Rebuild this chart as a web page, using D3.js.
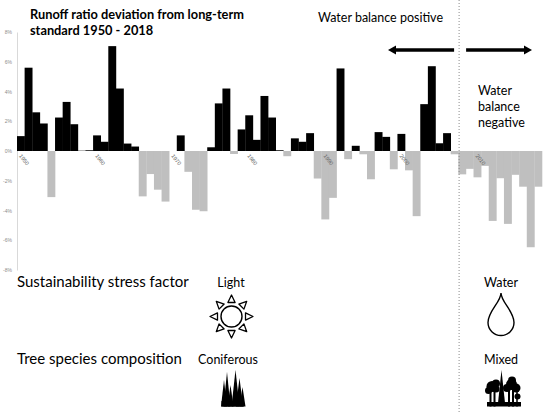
<!DOCTYPE html>
<html>
<head>
<meta charset="utf-8">
<script src="https://cdn.jsdelivr.net/npm/d3@7"></script>
<style>
  body { margin: 0; background: #fff; }
  svg { display: block; font-family: Lato, "Open Sans", sans-serif; }
</style>
</head>
<body>
<div id="chart"></div>
<script>
const years = d3.range(1950, 2019);
// runoff ratio deviation in %
const deviation = [
  1.0, 5.6, 2.6, 1.85, -3.1, 2.25, 3.3, 1.8, 0.02, 0.05,
  1.05, 0.62, 7.05, 4.2, 0.5, 0.3, -3.05, -1.55, -2.6, -3.4,
  0, 1.05, -1.4, -3.95, -4.05, 0.25, 3.2, 4.2, -0.2, 1.45,
  2.4, 0.75, 3.7, 2.25, 0.05, -0.35, 0.85, 0.62, 1.2, -1.85,
  -4.6, -3.15, 5.55, -0.55, 0.35, -0.22, -1.9, 1.27, 0.95, -1.23,
  1.15, -1.3, -4.38, 3.15, 5.7, 0.52, 1.2, -0.22, -1.57, -1.2,
  -1.77, -1.0, -4.7, -1.83, -4.9, -1.6, -2.4, -6.47, -2.4
];
const yTicks = [-8, -6, -4, -2, 0, 2, 4, 6, 8];
const labelYears = [1950, 1960, 1970, 1980, 1990, 2000, 2010];
const splitYear = 2008;
const titleLines = ["Runoff ratio deviation from long-term", "standard 1950 - 2018"];
const negLines = ["Water", "balance", "negative"];

const W = 550, H = 413;
const data = years.map((yr, i) => ({ year: yr, value: deviation[i] }));

const svg = d3.select("#chart").append("svg")
  .attr("width", W)
  .attr("height", H);

const x = d3.scaleBand()
  .domain(years)
  .range([17, 542])
  .padding(0);

const y = d3.scaleLinear()
  .domain([-8, 8])
  .range([270, 32]);

// y axis
const yAxis = svg.append("g")
  .attr("transform", "translate(17,0)")
  .call(d3.axisLeft(y).tickValues(yTicks).tickSize(0).tickPadding(5)
    .tickFormat(d => d + "%"));
yAxis.select(".domain").attr("stroke", "#d9d9d9").attr("stroke-width", 1);
yAxis.selectAll("text")
  .attr("fill", "#8c8c8c")
  .style("font-size", "5px");

// bars
svg.append("g").selectAll("rect")
  .data(data)
  .join("rect")
    .attr("x", d => x(d.year))
    .attr("width", x.bandwidth() + 0.3)
    .attr("y", d => y(Math.max(0, d.value)))
    .attr("height", d => Math.abs(y(d.value) - y(0)))
    .attr("fill", d => d.value >= 0 ? "#000" : "#bfbfbf");

// year labels
const xAxis = svg.append("g")
  .attr("transform", `translate(0,${y(0)})`)
  .call(d3.axisBottom(x).tickValues(labelYears).tickSize(0).tickPadding(0));
xAxis.select(".domain").remove();
xAxis.selectAll("text")
  .attr("fill", "#666")
  .style("font-size", "5.5px")
  .attr("text-anchor", "start")
  .attr("dy", 0)
  .attr("transform", "translate(-2,5) rotate(52)");

// divider
const xs = x(splitYear) + 0.8;
svg.append("line")
  .attr("x1", xs).attr("x2", xs)
  .attr("y1", 0).attr("y2", H)
  .attr("stroke", "#8a8a8a")
  .attr("stroke-width", 1)
  .attr("stroke-dasharray", "1,2");

// title
svg.append("text")
  .attr("x", 30)
  .attr("y", 18.5)
  .attr("font-weight", "bold")
  .style("font-size", "12.8px")
  .selectAll("tspan")
  .data(titleLines)
  .join("tspan")
    .attr("x", 30)
    .attr("dy", (d, i) => i ? 16 : 0)
    .text(d => d);

svg.append("text")
  .attr("x", 318)
  .attr("y", 22)
  .style("font-size", "12.5px")
  .text("Water balance positive");

svg.append("text")
  .attr("y", 95)
  .style("font-size", "12.5px")
  .selectAll("tspan")
  .data(negLines)
  .join("tspan")
    .attr("x", 478)
    .attr("dy", (d, i) => i ? 16 : 0)
    .text(d => d);

// arrows
function arrow(x1, x2, yy) {
  const dir = Math.sign(x2 - x1);
  svg.append("line")
    .attr("x1", x1).attr("x2", x2 - dir * 6)
    .attr("y1", yy).attr("y2", yy)
    .attr("stroke", "#000")
    .attr("stroke-width", 3.3);
  svg.append("path")
    .attr("d", `M${x2},${yy} L${x2 - dir * 8},${yy - 4.5} L${x2 - dir * 8},${yy + 4.5} Z`)
    .attr("fill", "#000");
}
arrow(xs - 5, 388, 50);
arrow(xs + 7, 532, 50);

// bottom rows
const rowText = [
  { t: "Sustainability stress factor", x: 17, y: 287, a: "start", s: 15 },
  { t: "Light", x: 231, y: 287, a: "middle", s: 12.5 },
  { t: "Water", x: 501, y: 287, a: "middle", s: 12.5 },
  { t: "Tree species composition", x: 17, y: 364, a: "start", s: 15 },
  { t: "Coniferous", x: 228, y: 364, a: "middle", s: 12.5 },
  { t: "Mixed", x: 501, y: 364, a: "middle", s: 12.5 }
];
svg.append("g").selectAll("text")
  .data(rowText)
  .join("text")
    .attr("x", d => d.x)
    .attr("y", d => d.y)
    .attr("text-anchor", d => d.a)
    .style("font-size", d => d.s + "px")
    .text(d => d.t);

// sun icon
const sun = svg.append("g").attr("transform", "translate(231.5,316.5)");
sun.append("circle")
  .attr("r", 10.5)
  .attr("fill", "#fff")
  .attr("stroke", "#000")
  .attr("stroke-width", 1.4);
d3.range(8).forEach(k => {
  sun.append("path")
    .attr("d", "M0,-21.5 L-3.6,-14 L3.6,-14 Z")
    .attr("transform", `rotate(${k * 45})`)
    .attr("fill", "#fff")
    .attr("stroke", "#000")
    .attr("stroke-width", 1.3)
    .attr("stroke-linejoin", "round");
});

// drop icon
svg.append("path")
  .attr("d", "M501,293 C501,302 514,311 514,322.5 A13,13 0 1 1 488,322.5 C488,311 501,302 501,293 Z")
  .attr("fill", "#fff")
  .attr("stroke", "#000")
  .attr("stroke-width", 1.4);

// coniferous icon
const conif = svg.append("g");
[[224, 380, 3], [227, 372, 3.5], [230.5, 385, 3], [235.5, 370, 4], [239.5, 378, 3.5], [242.5, 387, 3]]
  .forEach(([cx, top, hw]) => {
    conif.append("path")
      .attr("d", `M${cx},${top} L${cx + hw},406.5 L${cx - hw},406.5 Z`)
      .attr("fill", "#000");
  });
conif.append("rect").attr("x", 221.5).attr("y", 401).attr("width", 22.5).attr("height", 5.5).attr("fill", "#000");

// mixed icon
const mixed = svg.append("g").attr("fill", "#000");
mixed.append("path").attr("d", "M501.5,370 L505,403 L498,403 Z");
[[490.5, 398, 2], [494.5, 396, 2], [509, 398, 2], [513, 396, 2], [517, 399, 1.5]]
  .forEach(([tx, ty, tw]) => {
    mixed.append("rect").attr("x", tx - tw / 2).attr("y", ty - 12).attr("width", tw).attr("height", 406.5 - ty + 12);
  });
[[492, 386.5, 5.5], [488.5, 390.5, 3.5], [496, 383.5, 4], [496, 389, 3.5],
 [511.5, 384.5, 5.5], [507, 388, 4], [516, 388, 4.5], [512, 380.5, 4], [517.5, 396.5, 3]]
  .forEach(([cx, cy, r]) => {
    mixed.append("circle").attr("cx", cx).attr("cy", cy).attr("r", r);
  });
mixed.append("rect").attr("x", 487).attr("y", 402).attr("width", 34).attr("height", 4.5);
</script>
</body>
</html>
